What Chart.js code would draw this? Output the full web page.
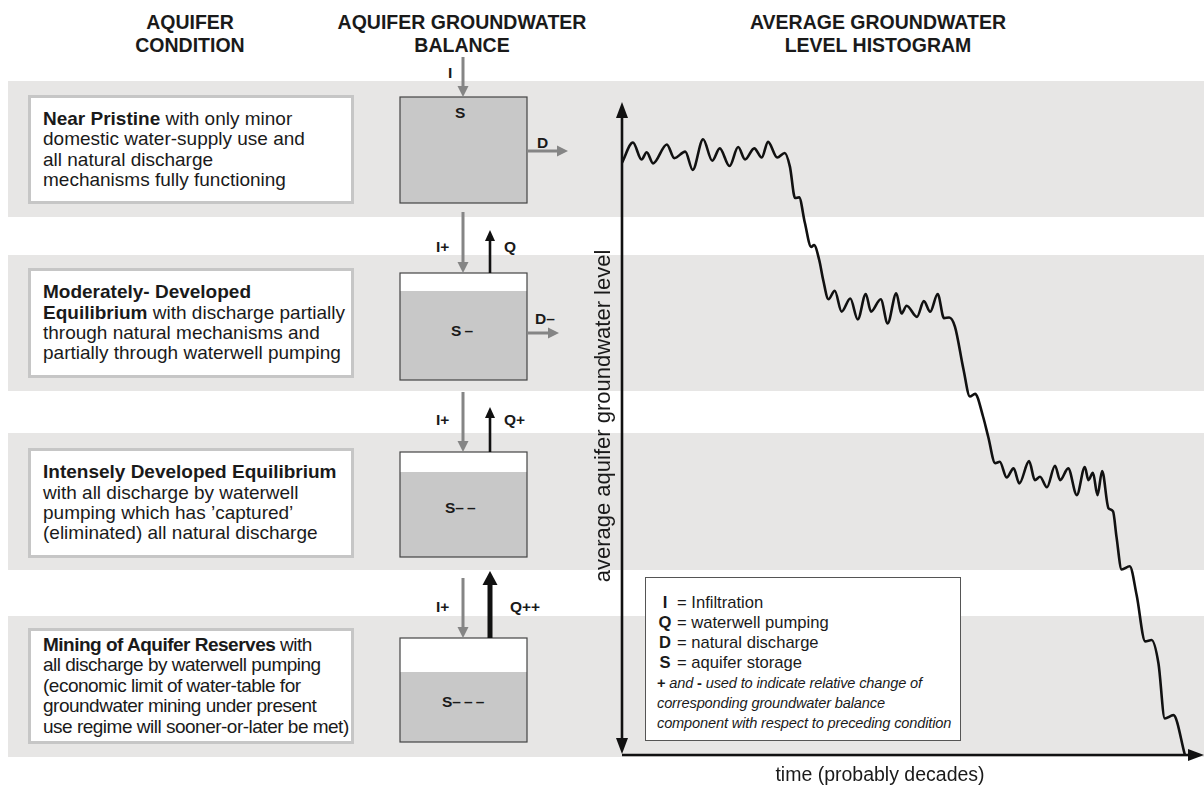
<!DOCTYPE html>
<html>
<head>
<meta charset="utf-8">
<script src="https://cdn.jsdelivr.net/npm/chart.js@4.4.1/dist/chart.umd.min.js"></script>
<style>
  body { margin: 0; background: #fff; font-family: "Liberation Sans", Arial, sans-serif; color: #1a1a1a; }
  #page { position: relative; width: 1204px; height: 789px; overflow: hidden; }
  .band { position: absolute; left: 8px; width: 1196px; background: #e7e6e5; }
  .title { position: absolute; width: 360px; text-align: center; font-weight: bold; font-size: 19.5px; line-height: 23px; }
  .cond { position: absolute; left: 28px; width: 326px; background: #fff; border: 3px solid #c6c6c6;
          font-size: 19px; line-height: 20.4px; display: flex; align-items: center; padding-left: 12px; box-sizing: border-box; }
  .lbl { position: absolute; font-weight: bold; font-size: 15.5px; line-height: 15px; }
  #legend { position: absolute; left: 645px; top: 577px; width: 316px; height: 164px; box-sizing: border-box;
            border: 1.3px solid #555; background: #fff; font-size: 16.6px; line-height: 20px; padding: 15px 0 0 11px; z-index: 3; }
  #legend .k { display: inline-block; width: 16px; text-align: center; font-weight: bold; margin-right: 4px; }
  #legend .it { font-size: 14.6px; letter-spacing: -0.15px; }
  .axisT { position: absolute; font-size: 19.5px; text-align: center; z-index: 3; }
  svg, canvas { position: absolute; left: 0; top: 0; }
</style>
</head>
<body>
<div id="page">
  <div class="band" style="top:81px;height:136px"></div>
  <div class="band" style="top:255px;height:136px"></div>
  <div class="band" style="top:433px;height:137px"></div>
  <div class="band" style="top:616px;height:141px"></div>

  <div class="title" style="left:10px;top:11px">AQUIFER<br>CONDITION</div>
  <div class="title" style="left:282px;top:11px">AQUIFER GROUNDWATER<br>BALANCE</div>
  <div class="title" style="left:698px;top:11px">AVERAGE GROUNDWATER<br>LEVEL HISTOGRAM</div>

  <div class="cond" style="top:95px;height:109px"><div><b>Near Pristine</b> with only minor<br>domestic water-supply use and<br>all natural discharge<br>mechanisms fully functioning</div></div>
  <div class="cond" style="top:268px;height:110px"><div><b>Moderately- Developed<br>Equilibrium</b> with discharge partially<br>through natural mechanisms and<br>partially through waterwell pumping</div></div>
  <div class="cond" style="top:448px;height:110px"><div><b>Intensely Developed Equilibrium</b><br>with all discharge by waterwell<br>pumping which has ’captured’<br>(eliminated) all natural discharge</div></div>
  <div class="cond" style="top:628px;height:116px"><div style="letter-spacing:-0.5px"><b>Mining of Aquifer Reserves</b> with<br>all discharge by waterwell pumping<br>(economic limit of water-table for<br>groundwater mining under present<br>use regime will sooner-or-later be met)</div></div>

  <svg id="diag" width="1204" height="789"></svg>

  <div class="lbl" style="left:448px;top:65px">I</div>
  <div class="lbl" style="left:455px;top:105px">S</div>
  <div class="lbl" style="left:537px;top:135px">D</div>
  <div class="lbl" style="left:436px;top:239px">I+</div>
  <div class="lbl" style="left:504px;top:239px">Q</div>
  <div class="lbl" style="left:451px;top:323px">S&thinsp;–</div>
  <div class="lbl" style="left:535px;top:311px">D–</div>
  <div class="lbl" style="left:436px;top:412px">I+</div>
  <div class="lbl" style="left:504px;top:412px">Q+</div>
  <div class="lbl" style="left:445px;top:500px">S–&thinsp;–</div>
  <div class="lbl" style="left:436px;top:599px">I+</div>
  <div class="lbl" style="left:510px;top:599px">Q++</div>
  <div class="lbl" style="left:442px;top:694px">S–&thinsp;–&thinsp;–</div>

  <canvas id="chart" width="1204" height="789" style="z-index:2"></canvas>

  <div id="legend">
    <div><span class="k">I</span>= Infiltration</div>
    <div><span class="k">Q</span>= waterwell pumping</div>
    <div><span class="k">D</span>= natural discharge</div>
    <div><span class="k">S</span>= aquifer storage</div>
    <div class="it"><b>+</b> <i>and</i> <b>-</b> <i>used to indicate relative change of</i></div>
    <div class="it"><i>corresponding groundwater balance</i></div>
    <div class="it"><i>component with respect to preceding condition</i></div>
  </div>

  <div class="axisT" style="left:403px;top:403px;width:400px;font-size:22px;transform:rotate(-90deg)">average aquifer groundwater level</div>
  <div class="axisT" style="left:730px;top:763px;width:300px">time (probably decades)</div>
</div>

<script>
// groundwater level (time and level in 0-100 units)
var timeValues = [0, 1.9, 3.4, 4.3, 5.4, 7.8, 9.1, 11.0, 12.3, 14.1, 15.7, 17.0, 18.7, 20.2, 21.4, 23.0, 24.3, 25.4, 27.0, 28.3,
  29.2, 30.1, 30.8, 31.8, 32.9, 33.4, 34.3, 35.0, 35.9, 37.0, 38.2, 39.7, 41.0, 42.4, 43.3, 45.0, 46.2, 47.7, 48.6, 49.5,
  51.3, 52.5, 53.6, 54.9, 56.0, 56.9, 57.9, 59.4, 60.5, 61.4, 62.8, 63.7, 64.9, 65.7, 66.9, 68.1, 69.1, 70.8, 71.8, 72.7,
  73.9, 75.3, 76.2, 77.6, 79.1, 80.5, 81.1, 81.9, 82.7, 83.5, 84.6, 85.4, 86.0, 86.9, 88.3, 89.5, 91.0, 92.1, 93.3, 94.4,
  95.9, 97.9];
var levelValues = [90.7, 93.8, 91.2, 92.3, 90.6, 93.5, 91.4, 92.4, 89.6, 94.3, 91.0, 92.9, 90.2, 93.1, 91.2, 92.9, 91.5, 93.9, 91.5, 92.2,
  90.1, 85.3, 85.4, 81.5, 77.8, 78.1, 75.8, 72.7, 69.8, 71.1, 67.9, 69.9, 66.7, 70.6, 67.9, 69.8, 66.1, 70.7, 67.6, 68.8,
  67.1, 69.5, 67.9, 70.6, 66.9, 67.0, 65.6, 59.0, 54.9, 55.3, 51.8, 48.7, 44.7, 44.9, 42.5, 43.9, 41.6, 45.0, 42.1, 42.6,
  41.0, 44.3, 42.1, 43.9, 39.8, 44.1, 42.1, 43.2, 39.8, 43.5, 37.8, 37.3, 33.4, 28.4, 28.9, 24.5, 17.4, 17.6, 14.0, 5.6,
  6.1, 0];

// storage boxes: top, bottom, water surface
var storageBoxes = [[97, 203, 97], [273, 380, 291], [452, 557, 472], [638, 742, 672]];

var svg = document.getElementById("diag");
var NS = "http://www.w3.org/2000/svg";
function el(name, attrs) {
  var e = document.createElementNS(NS, name);
  for (var k in attrs) e.setAttribute(k, attrs[k]);
  svg.appendChild(e);
  return e;
}
function arrow(x1, y1, x2, y2, color, w, hl, hw) {
  var dx = x2 - x1, dy = y2 - y1, len = Math.sqrt(dx * dx + dy * dy);
  var ux = dx / len, uy = dy / len;
  var bx = x2 - ux * hl, by = y2 - uy * hl;
  el("line", { x1: x1, y1: y1, x2: bx, y2: by, stroke: color, "stroke-width": w });
  el("polygon", {
    points: x2 + "," + y2 + " " + (bx - uy * hw) + "," + (by + ux * hw) + " " + (bx + uy * hw) + "," + (by - ux * hw),
    fill: color
  });
}

storageBoxes.forEach(function (b) {
  el("rect", { x: 400, y: b[0], width: 127, height: b[1] - b[0], fill: "#fff" });
  el("rect", { x: 400, y: b[2], width: 127, height: b[1] - b[2], fill: "#c8c8c8" });
  el("rect", { x: 400, y: b[0], width: 127, height: b[1] - b[0], fill: "none", stroke: "#444", "stroke-width": 1.2 });
});

var grey = "#858585", black = "#111";
arrow(463, 57, 463, 97, grey, 3, 11, 5.5);
arrow(527, 151, 568, 151, grey, 3, 11, 5.5);
arrow(463, 212, 463, 273, grey, 3, 11, 5.5);
arrow(490, 273, 490, 230, black, 2.6, 11, 5);
arrow(527, 333, 559, 333, grey, 3, 11, 5.5);
arrow(463, 392, 463, 452, grey, 3, 11, 5.5);
arrow(490, 452, 490, 407, black, 2.6, 11, 5);
arrow(463, 578, 463, 638, grey, 3, 11, 5.5);
arrow(490, 638, 490, 571, black, 5, 14, 7.5);

var points = timeValues.map(function (t, i) { return { x: t, y: levelValues[i] }; });

var axesPlugin = {
  id: "axesArrows",
  afterDatasetsDraw: function (chart) {
    var c = chart.ctx, a = chart.chartArea;
    c.save();
    c.strokeStyle = "#111";
    c.fillStyle = "#111";
    c.lineWidth = 2.6;
    c.beginPath();
    c.moveTo(a.left, a.top + 12);
    c.lineTo(a.left, a.bottom - 12);
    c.moveTo(a.left, a.bottom);
    c.lineTo(chart.width - 12, a.bottom);
    c.stroke();
    function head(x, y, dx, dy) {
      c.beginPath();
      c.moveTo(x, y);
      c.lineTo(x - dx * 16 - dy * 6, y - dy * 16 - dx * 6);
      c.lineTo(x - dx * 16 + dy * 6, y - dy * 16 + dx * 6);
      c.closePath();
      c.fill();
    }
    head(a.left, a.top, 0, -1);
    head(a.left, a.bottom - 1, 0, 1);
    head(chart.width, a.bottom, 1, 0);
    c.restore();
  }
};

new Chart(document.getElementById("chart"), {
  type: "line",
  data: {
    datasets: [{
      data: points,
      borderColor: "#111",
      borderWidth: 2.6,
      pointRadius: 0,
      fill: false,
      cubicInterpolationMode: "monotone"
    }]
  },
  options: {
    responsive: false,
    animation: false,
    layout: { padding: { left: 622, right: 7, top: 102, bottom: 34 } },
    plugins: { legend: { display: false }, tooltip: { enabled: false } },
    scales: {
      x: { type: "linear", min: 0, max: 100, display: false },
      y: { min: 0, max: 100, display: false }
    }
  },
  plugins: [axesPlugin]
});
</script>
</body>
</html>
